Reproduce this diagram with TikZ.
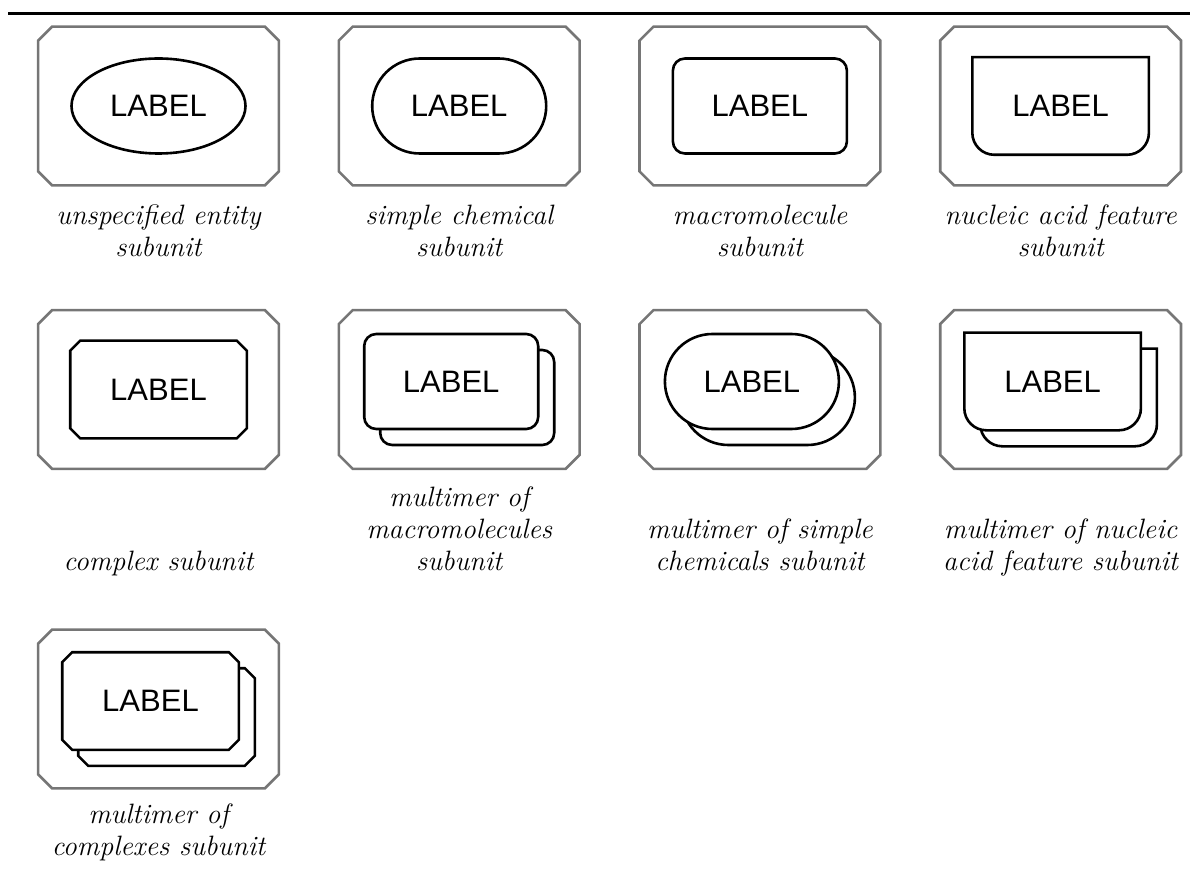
\documentclass[tikz,border=0pt]{standalone}
\usepackage{fontspec}
\newfontfamily\labelfont{Liberation Sans}
\usetikzlibrary{shapes.geometric,shapes.misc,backgrounds,positioning}
\definecolor{framegray}{HTML}{767676}

\tikzset{
  frame/.style={rectangle, minimum width=120pt, minimum height=79pt, inner sep=0pt},
  glyph/.style={draw, line width=1.3pt, fill=white, minimum width=87pt, minimum height=47.5pt,
    inner sep=0pt, font=\labelfont\fontsize{15.5}{18}\selectfont},
  unspecified/.style={glyph, ellipse},
  simplechem/.style={glyph, rounded rectangle},
  macromol/.style={glyph, rounded corners=6pt},
  plainglyph/.style={glyph, draw=none, fill=none},
  caption/.style={align=center, anchor=north, font=\fontsize{14}{16}\selectfont\itshape},
  frameline/.style={draw=framegray, line width=1.3pt},
  glyphline/.style={draw=black, fill=white, line width=1.3pt},
}

% chamfered outline round a node: style, node, cut
\newcommand{\chamfer}[3]{%
  \path[#1] ([xshift=#3]#2.north west) -- ([xshift=-#3]#2.north east)
    -- ([yshift=-#3]#2.north east) -- ([yshift=#3]#2.south east)
    -- ([xshift=-#3]#2.south east) -- ([xshift=#3]#2.south west)
    -- ([yshift=#3]#2.south west) -- ([yshift=-#3]#2.north west) -- cycle;}
% nucleic acid feature outline: square top, rounded bottom
\newcommand{\nafeature}[1]{%
  \path[glyphline] (#1.north west) [rounded corners=11pt] -- (#1.south west)
    -- (#1.south east) [sharp corners] -- (#1.north east) -- cycle;}

\begin{document}
\begin{tikzpicture}[x=0.5pt, y=-0.5pt]
  \useasboundingbox (0,0) rectangle (1198,871);
  \draw[line width=1.5pt] (8,14) -- (1190,14);

  % grey frames
  \foreach \name/\col/\row in {ue/0/106, sc/1/106, mm/2/106, na/3/106,
      cx/0/389.5, mmm/1/389.5, msc/2/389.5, mna/3/389.5, mcx/0/709} {
    \node[frame] (f-\name) at ({158.5+300.7*\col}, \row) {};
    \chamfer{frameline}{f-\name}{7pt}
  }

  % row 1
  \node[unspecified] (ue) at (f-ue) {LABEL};
  \node[simplechem] (sc) at (f-sc) {LABEL};
  \node[macromol] (mm) at (f-mm) {LABEL};
  \node[plainglyph] (na) at (f-na) {LABEL};

  % row 2
  \node[plainglyph] (cx) at (f-cx) {LABEL};
  \node[macromol] (mmm-b) at ([shift={(8,8)}]f-mmm) {};
  \node[macromol] (mmm) at ([shift={(-8,-8)}]f-mmm) {LABEL};
  \node[simplechem] (msc-b) at ([shift={(8,8)}]f-msc) {};
  \node[simplechem] (msc) at ([shift={(-8,-8)}]f-msc) {LABEL};
  \node[plainglyph] (mna-b) at ([shift={(8,8)}]f-mna) {};
  \node[plainglyph] (mna) at ([shift={(-8,-8)}]f-mna) {LABEL};

  % row 3
  \node[plainglyph] (mcx-b) at ([shift={(8,8)}]f-mcx) {};
  \node[plainglyph] (mcx) at ([shift={(-8,-8)}]f-mcx) {LABEL};

  \begin{scope}[on background layer]
    \nafeature{na}
    \chamfer{glyphline}{cx}{5pt}
    \nafeature{mna-b}
    \nafeature{mna}
    \chamfer{glyphline}{mcx-b}{5pt}
    \chamfer{glyphline}{mcx}{5pt}
  \end{scope}

  % captions
  \node[caption] (c-ue) at (f-ue |- 0,198) {unspecified entity\\subunit};
  \node[caption] (c-sc) at (f-sc |- 0,198) {simple chemical\\subunit};
  \node[caption] (c-mm) at (f-mm |- 0,198) {macromolecule\\subunit};
  \node[caption] (c-na) at (f-na |- 0,198) {nucleic acid feature\\subunit};
  \node[caption] (c-cx) at (f-cx |- 0,544) {complex subunit};
  \node[caption] (c-mmm) at (f-mmm |- 0,480) {multimer of\\macromolecules\\subunit};
  \node[caption] (c-msc) at (f-msc |- 0,512) {multimer of simple\\chemicals subunit};
  \node[caption] (c-mna) at (f-mna |- 0,512) {multimer of nucleic\\acid feature subunit};
  \node[caption] (c-mcx) at (f-mcx |- 0,797) {multimer of\\complexes subunit};
\end{tikzpicture}
\end{document}
